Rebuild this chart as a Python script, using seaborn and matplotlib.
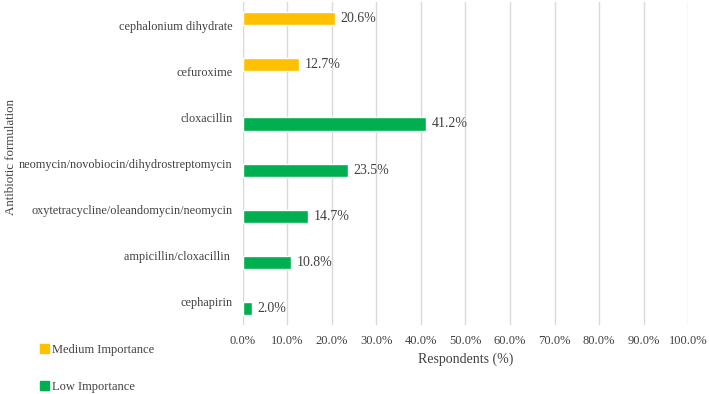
import pandas as pd
import matplotlib.pyplot as plt
import seaborn as sns
from matplotlib.ticker import PercentFormatter

# === DATA ===
formulations = [
    "cephalonium dihydrate",
    "cefuroxime",
    "cloxacillin",
    "neomycin/novobiocin/dihydrostreptomycin",
    "oxytetracycline/oleandomycin/neomycin",
    "ampicillin/cloxacillin ",
    "cephapirin",
]
importance = [
    "Medium Importance",
    "Medium Importance",
    "Low Importance",
    "Low Importance",
    "Low Importance",
    "Low Importance",
    "Low Importance",
]
respondents = [20.6, 12.7, 41.2, 23.5, 14.7, 10.8, 2.0]

importance_levels = ["Medium Importance", "Low Importance"]
palette = {"Medium Importance": "#FFC000", "Low Importance": "#00B050"}
x_ticks = [0, 10, 20, 30, 40, 50, 60, 70, 80, 90, 100]

df = pd.DataFrame({
    "Formulation": formulations,
    "Importance": importance,
    "Respondents": respondents,
})

# === STYLE ===
sns.set_style("white")
plt.rcParams["font.family"] = ["Liberation Serif", "DejaVu Serif"]
text_color = "#404040"

fig = plt.figure(figsize=(7.09, 3.94), dpi=100)
ax = fig.add_axes([0.3427, 0.1751, 0.6277, 0.8198])

sns.barplot(
    data=df, y="Formulation", x="Respondents", hue="Importance",
    order=formulations, hue_order=importance_levels, palette=palette,
    width=0.57, dodge=True, saturation=1, ax=ax, legend=False,
)

# value labels next to bars
for container in ax.containers:
    ax.bar_label(container, fmt="%.1f%%", padding=4, fontsize=10, color=text_color)

# === AXES FORMATTING ===
ax.set_xlim(0, 100)
ax.set_xticks(x_ticks)
ax.xaxis.set_major_formatter(PercentFormatter(decimals=1))
ax.grid(axis="x", color="#d9d9d9", linewidth=1)
ax.set_axisbelow(True)
for s in ax.spines.values():
    s.set_visible(False)
ax.tick_params(axis="x", length=0, labelsize=9, colors=text_color, pad=7.5)
ax.tick_params(axis="y", length=0, labelsize=8.8, colors=text_color, pad=7.5)

ax.set_xlabel("Respondents (%)", fontsize=10, color=text_color, labelpad=4)
ax.set_ylabel("Antibiotic formulation", fontsize=9.4, color=text_color)
ax.yaxis.set_label_coords(-0.508, 0.52)

# legend in the lower-left corner, stacked vertically
handles = [plt.Rectangle((0, 0), 1, 1, color=palette[k]) for k in importance_levels]
fig.legend(
    handles, importance_levels, loc="upper left", bbox_to_anchor=(0.056, 0.128),
    frameon=False, fontsize=9, labelcolor=text_color,
    handlelength=0.75, handleheight=0.75, handletextpad=0.25, labelspacing=2.05,
    borderaxespad=0, borderpad=0,
)

plt.savefig("out.png", dpi=100)
